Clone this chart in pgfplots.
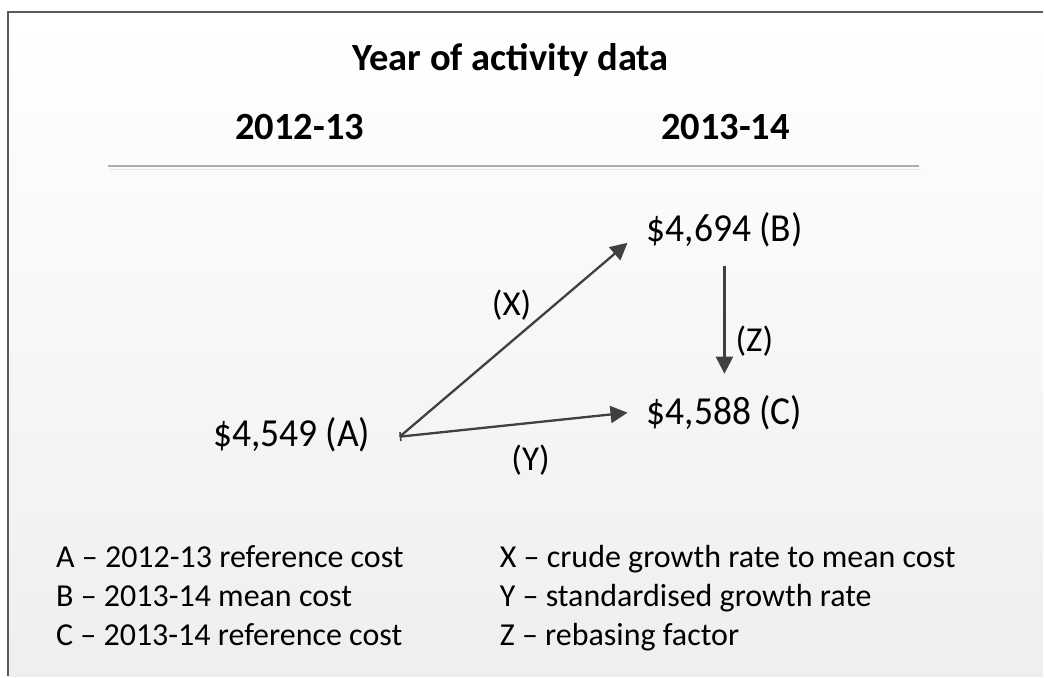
\documentclass[border=0pt]{standalone}
\usepackage{pgfplots}
\pgfplotsset{compat=1.18}
\usepackage{fontspec}
\setmainfont{Carlito}
\usetikzlibrary{arrows.meta}
\definecolor{arr}{HTML}{404040}
\definecolor{frame}{HTML}{5A5A5A}
\begin{document}
\begin{tikzpicture}
\begin{axis}[
  scale only axis, width=1044pt, height=677pt,
  xmin=0, xmax=1044, ymin=0, ymax=677, y dir=reverse,
  hide axis, clip=false]
% background and frame
\path (0,0) rectangle (1044,677);
\shade[top color=white, bottom color=black!6.5] (8,12) rectangle (1044,677);
\draw[frame, line width=1.6pt] (8,677) -- (8,12) -- (1044,12);
% separator
\draw[black!32, line width=1.5pt] (108,166) -- (920,166);
\draw[black!10, line width=1.2pt] (110,170) -- (922,170);
% headings
\node[anchor=base, font=\bfseries\fontsize{38.5}{44}\selectfont] at (511,71) {Year of activity data};
\node[anchor=base, font=\bfseries\fontsize{38.5}{44}\selectfont] at (300,140) {2012-13};
\node[anchor=base, font=\bfseries\fontsize{38.5}{44}\selectfont] at (726,140) {2013-14};
% arrows (A -> B, A -> C, B -> C)
\addplot[arr, line width=2.3pt, -{Triangle[length=17pt,width=17pt]}] coordinates {(400,437) (628,243)};
\addplot[arr, line width=2.3pt, {Bar[width=9pt,line width=1.5pt]}-{Triangle[length=17pt,width=17pt]}] coordinates {(400,437) (628,413)};
\addplot[arr, line width=2.3pt, -{Triangle[length=17pt,width=17pt]}] coordinates {(725,266) (725,374)};
% values
\node[anchor=base west, inner sep=0pt, font=\fontsize{37.5}{44}\selectfont] at (213,447) {\scalebox{1}[1.06]{\$4,549 (A)}};
\node[anchor=base west, inner sep=0pt, font=\fontsize{37.5}{44}\selectfont] at (647,242) {\scalebox{1}[1.06]{\$4,694 (B)}};
\node[anchor=base west, inner sep=0pt, font=\fontsize{37.5}{44}\selectfont] at (647,425) {\scalebox{1}[1.06]{\$4,588 (C)}};
% arrow labels
\node[font=\fontsize{35}{40}\selectfont] at (512,305) {(X)};
\node[font=\fontsize{35}{40}\selectfont] at (531,460) {(Y)};
\node[anchor=west, inner sep=0pt, font=\fontsize{35}{40}\selectfont] at (736,341) {(Z)};
% legend
\node[anchor=base west, inner sep=0pt, font=\fontsize{32}{38}\selectfont] at (56,568) {A -- 2012-13 reference cost};
\node[anchor=base west, inner sep=0pt, font=\fontsize{32}{38}\selectfont] at (56,607) {B -- 2013-14 mean cost};
\node[anchor=base west, inner sep=0pt, font=\fontsize{32}{38}\selectfont] at (56,646) {C -- 2013-14 reference cost};
\node[anchor=base west, inner sep=0pt, font=\fontsize{32}{38}\selectfont] at (500,568) {X -- crude growth rate to mean cost};
\node[anchor=base west, inner sep=0pt, font=\fontsize{32}{38}\selectfont] at (500,607) {Y -- standardised growth rate};
\node[anchor=base west, inner sep=0pt, font=\fontsize{32}{38}\selectfont] at (500,646) {Z -- rebasing factor};
\end{axis}
\end{tikzpicture}
\end{document}
